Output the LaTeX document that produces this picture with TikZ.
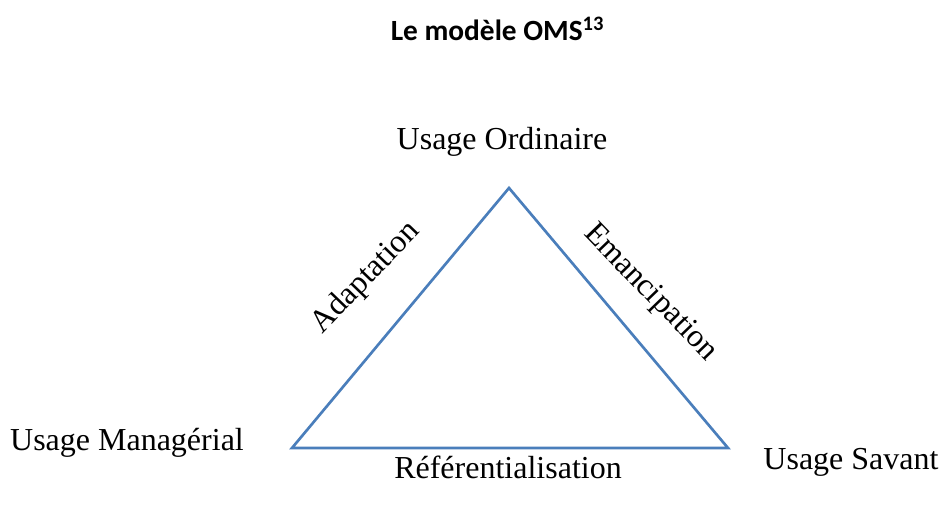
\documentclass[tikz,border=0pt]{standalone}
\usepackage{fontspec}
\setmainfont{Liberation Serif}
\newfontfamily\titlefont{Carlito}
\usepackage{tikz}
\usetikzlibrary{calc}
\definecolor{edgeblue}{HTML}{4A7EBB}
\tikzset{
  side/.style={draw=edgeblue, line width=2pt, line join=miter},
  usage/.style={font=\fontsize{24}{28}\selectfont, inner sep=0pt},
  axe/.style={font=\fontsize{24}{28}\selectfont, inner sep=0pt}
}

\begin{document}
\begin{tikzpicture}[x=0.75pt,y=0.75pt]
  \useasboundingbox (0,0) rectangle (941,506);

  \coordinate (O) at (509,318);
  \coordinate (M) at (292,58);
  \coordinate (S) at (728,58);

  % the triangle
  \draw[side] (M) -- (O) -- (S) -- cycle;

  \node[font=\titlefont\bfseries\fontsize{22}{26}\selectfont] (title) at (497.5,477)
    {Le modèle OMS\textsuperscript{13}};

  \node[usage] (ordinaire) at (502,364) {Usage Ordinaire};
  \node[usage] (manag) at (127,63) {Usage Managérial};
  \node[usage] (savant) at (851,44) {Usage Savant};

  % labels along the sides
  \node[axe, rotate=46] (adapt) at (366,228) {Adaptation};
  \node[axe, rotate=-46] (emanc) at (650,213) {Emancipation};
  \node[axe] (refer) at (508,39) {Référentialisation};
\end{tikzpicture}
\end{document}
